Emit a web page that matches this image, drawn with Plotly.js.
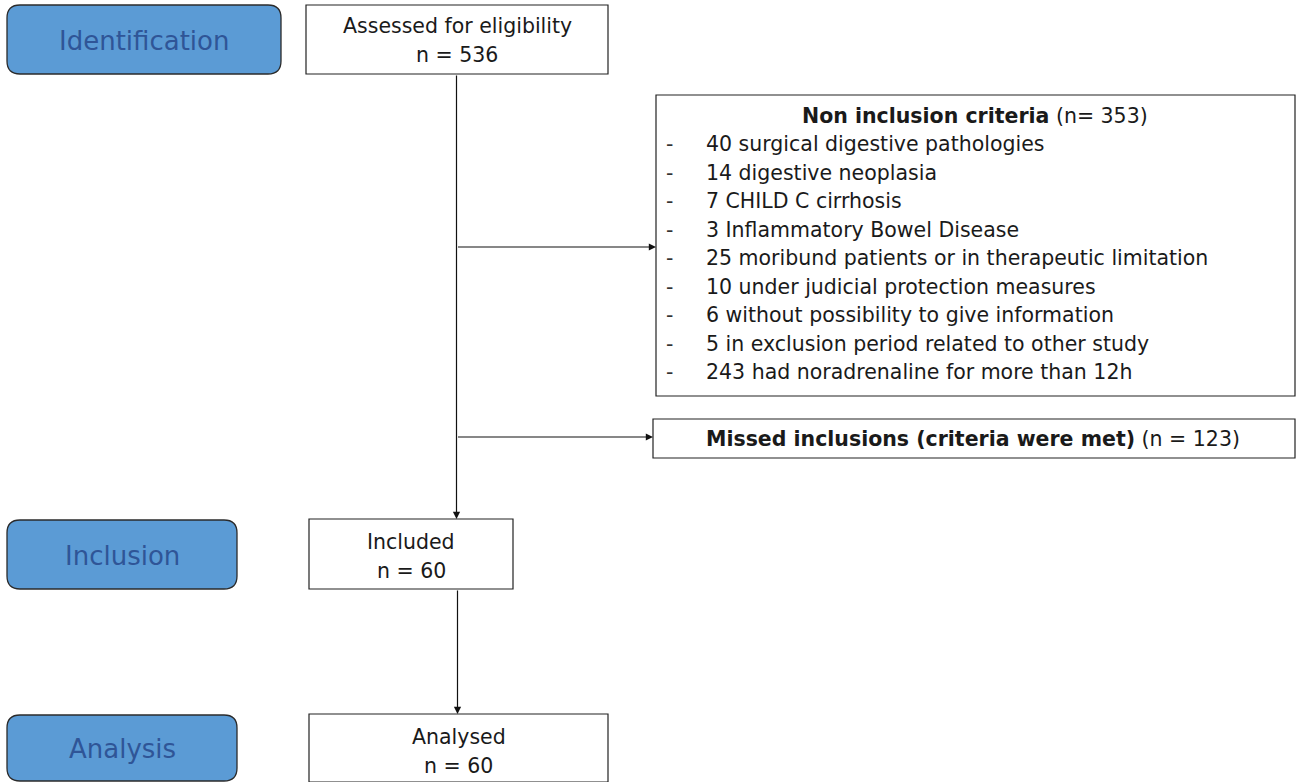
<!DOCTYPE html>
<html><head><meta charset="utf-8">
<script src="https://cdn.plot.ly/plotly-3.0.1.min.js"></script>
<style>html,body{margin:0;padding:0;background:#fff}#c{width:1301px;height:782px}</style>
</head><body><div id="c"></div>
<script>
// ---- data ----
const stages = ['Identification', 'Inclusion', 'Analysis'];
const flowLabels = ['Assessed for eligibility', 'Included', 'Analysed'];
const flowN = [536, 60, 60];
const nonInclusionTitle = 'Non inclusion criteria';
const nonInclusionN = 353;
const criteriaCounts = [40, 14, 7, 3, 25, 10, 6, 5, 243];
const criteriaLabels = ['surgical digestive pathologies', 'digestive neoplasia', 'CHILD C cirrhosis',
  'Inflammatory Bowel Disease', 'moribund patients or in therapeutic limitation',
  'under judicial protection measures', 'without possibility to give information',
  'in exclusion period related to other study', 'had noradrenaline for more than 12h'];
const missedTitle = 'Missed inclusions (criteria were met)';
const missedN = 123;

// ---- layout geometry (pixels) ----
const FONT = 'DejaVu Sans, Tahoma, sans-serif';
const FS = 20.5;
const stageBoxes = [[7, 5, 281, 74], [7, 520, 237, 589], [7, 715, 237, 781]];
const flowBoxes = [[306, 5, 608, 74], [309, 519, 513, 589], [309, 714, 608, 782]];
const textOffsets = [0.5, 1.5, 2.5];
const nonBox = [656, 95, 1295, 396];
const missBox = [653, 419, 1295, 458];
const trunkX = 456.5;

function rounded(b, r) {
  const [x0, y0, x1, y1] = b;
  return `M${x0 + r},${y0} L${x1 - r},${y0} Q${x1},${y0} ${x1},${y0 + r} L${x1},${y1 - r} Q${x1},${y1} ${x1 - r},${y1} L${x0 + r},${y1} Q${x0},${y1} ${x0},${y1 - r} L${x0},${y0 + r} Q${x0},${y0} ${x0 + r},${y0} Z`;
}
const shapes = [];
const ann = [];
stageBoxes.forEach((b, i) => {
  shapes.push({type: 'path', xref: 'x', yref: 'y', path: rounded(b, 13),
    fillcolor: '#5B9BD5', line: {color: '#2b2b2b', width: 1.3}});
  ann.push({xref: 'x', yref: 'y', x: (b[0] + b[2]) / 2, y: (b[1] + b[3]) / 2 + 1, text: stages[i],
    showarrow: false, font: {family: FONT, size: 26, color: '#2F5597'}, xanchor: 'center', yanchor: 'middle'});
});
flowBoxes.forEach((b, i) => {
  shapes.push({type: 'rect', xref: 'x', yref: 'y', x0: b[0], y0: b[1], x1: b[2], y1: b[3],
    fillcolor: '#fff', line: {color: '#222', width: 1.2}});
  const cx = (b[0] + b[2]) / 2, cy = (b[1] + b[3]) / 2 + textOffsets[i];
  ann.push({xref: 'x', yref: 'y', x: cx, y: cy - 14, text: flowLabels[i],
    showarrow: false, font: {family: FONT, size: FS, color: '#1a1a1a'}, xanchor: 'center', yanchor: 'middle'});
  ann.push({xref: 'x', yref: 'y', x: cx, y: cy + 15, text: 'n = ' + flowN[i],
    showarrow: false, font: {family: FONT, size: FS, color: '#1a1a1a'}, xanchor: 'center', yanchor: 'middle'});
});
[nonBox, missBox].forEach(b => shapes.push({type: 'rect', xref: 'x', yref: 'y', x0: b[0], y0: b[1], x1: b[2], y1: b[3],
  fillcolor: '#fff', line: {color: '#222', width: 1.2}}));
ann.push({xref: 'x', yref: 'y', x: 975, y: 116, text: '<b>' + nonInclusionTitle + '</b> (n= ' + nonInclusionN + ')',
  showarrow: false, font: {family: FONT, size: FS, color: '#1a1a1a'}, xanchor: 'center', yanchor: 'middle'});
criteriaLabels.forEach((t, i) => {
  const y = 144 + i * 28.5;
  ann.push({xref: 'x', yref: 'y', x: 664, y: y, text: '-', showarrow: false,
    font: {family: FONT, size: FS, color: '#333'}, xanchor: 'left', yanchor: 'middle'});
  ann.push({xref: 'x', yref: 'y', x: 704, y: y, text: criteriaCounts[i] + ' ' + t, showarrow: false,
    font: {family: FONT, size: FS, color: '#1a1a1a'}, xanchor: 'left', yanchor: 'middle'});
});
ann.push({xref: 'x', yref: 'y', x: 973, y: 439, text: '<b>' + missedTitle + '</b> (n = ' + missedN + ')',
  showarrow: false, font: {family: FONT, size: FS, color: '#1a1a1a'}, xanchor: 'center', yanchor: 'middle'});

// connectors
function arrow(x0, y0, x1, y1) {
  ann.push({xref: 'x', yref: 'y', axref: 'x', ayref: 'y', x: x1, y: y1, ax: x0, ay: y0, text: '',
    showarrow: true, arrowhead: 2, arrowsize: 1.2, arrowwidth: 1.2, arrowcolor: '#111', standoff: 0});
}
arrow(trunkX, 74, trunkX, 519);
arrow(trunkX, 247, nonBox[0], 247);
arrow(trunkX, 437, missBox[0], 437);
arrow(457.5, 589, 457.5, 714);

const layout = {
  width: 1301, height: 782, margin: {l: 0, r: 0, t: 0, b: 0},
  paper_bgcolor: '#fff', plot_bgcolor: '#fff', showlegend: false,
  xaxis: {range: [0, 1301], visible: false, fixedrange: true},
  yaxis: {range: [782, 0], visible: false, fixedrange: true},
  shapes: shapes, annotations: ann
};
Plotly.newPlot('c', [{x: [0], y: [0], mode: 'markers', marker: {opacity: 0}, hoverinfo: 'skip'}], layout,
  {displayModeBar: false, staticPlot: true});
</script></body></html>
